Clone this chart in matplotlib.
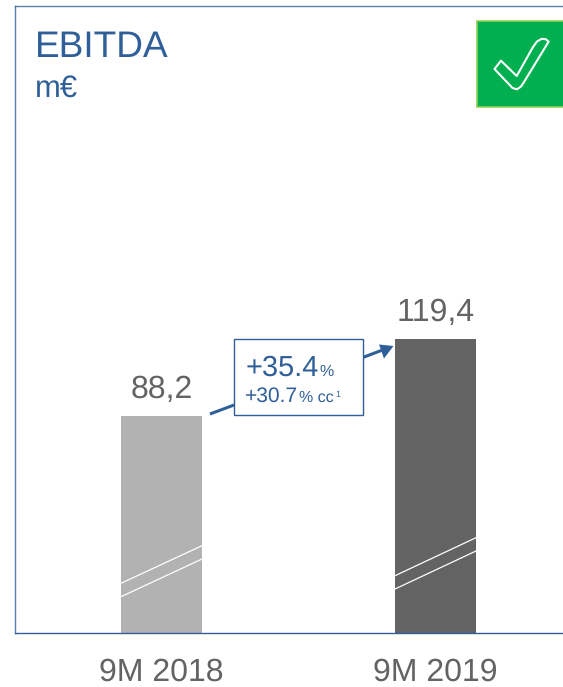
import matplotlib
matplotlib.use("Agg")
import matplotlib.pyplot as plt
from matplotlib.patches import Polygon, Rectangle

categories = ["9M 2018", "9M 2019"]
values = [88.2, 119.4]
value_labels = ["88,2", "119,4"]
bar_colors = ["#B2B2B2", "#636363"]

W, H = 563, 687
BLUE = "#2F5F98"
GREY = "#636363"
plt.rcParams["font.family"] = ["Liberation Sans", "DejaVu Sans"]
plt.rcParams["text.hinting"] = "no_hinting"
plt.rcParams["text.hinting_factor"] = 1

fig = plt.figure(figsize=(W / 100, H / 100), dpi=100, facecolor="white")

# data axes: left edge x=15px, right edge = figure edge, baseline y=633px, top y=6px
ax = fig.add_axes([15 / W, (H - 633) / H, (W - 15) / W, (633 - 6) / H])
px_per_unit = 2.461
ax.set_ylim(0, (633 - 6) / px_per_unit)
xs = [0, 1]
step = 274.0
ax.set_xlim(-(161.5 - 15) / step, (563 - 161.5) / step)
ax.bar(xs, values, width=81 / step, color=bar_colors, linewidth=0, zorder=2)
for x, v, lab in zip(xs, values, value_labels):
    ax.annotate(lab, (x, v), xytext=(0, 18), textcoords="offset pixels",
                ha="center", va="baseline", fontsize=23, color=GREY)
ax.set_xticks(xs, categories)
ax.set_yticks([])
ax.tick_params(axis="x", length=0, pad=17.3, labelsize=23, labelcolor=GREY)
for lab in ax.get_xticklabels():
    lab.set_verticalalignment("top")
for s in ["left", "top", "bottom"]:
    ax.spines[s].set_color(BLUE)
    ax.spines[s].set_linewidth(1.0)
ax.spines["right"].set_visible(False)
ax.spines["top"].set_alpha(0.8)
ax.spines["left"].set_alpha(0.8)

# overlay in reference pixel coordinates for the decorations
ov = fig.add_axes([0, 0, 1, 1], facecolor="none")
ov.set_xlim(0, W)
ov.set_ylim(H, 0)
ov.axis("off")

# axis-break strokes on the bars
for x0, x1, y0, y1 in [(121, 202, 583.3, 545.7), (121, 202, 596.7, 559.0),
                       (395, 476, 575.7, 537.7), (395, 476, 589.0, 551.0)]:
    ov.plot([x0, x1], [y0, y1], color="white", lw=0.9, zorder=3)

# titles
ov.text(35, 57, "EBITDA", fontsize=26.5, color=BLUE, va="baseline")
ov.text(35, 97, "m€", fontsize=22.3, color=BLUE, va="baseline")

# check icon
ov.add_patch(Rectangle((476.5, 21), 90, 86, facecolor="#00B050",
                       edgecolor="#92D050", lw=1.2, zorder=3))
check = [(494.5, 69), (501, 60.7), (516.7, 76), (533, 47), (537, 41.5), (541.7, 38.8),
         (546, 39.3), (548.6, 41.7), (524, 82), (521, 86.5), (517, 89.3), (512.5, 88)]
ov.add_patch(Polygon(check, closed=True, facecolor="none", edgecolor="white",
                     lw=1.5, joinstyle="round", zorder=4))

# growth callout
ov.plot([210, 234], [414, 405], color=BLUE, lw=2.2, solid_capstyle="butt", zorder=3)
ov.plot([363.3, 382], [357.3, 350.2], color=BLUE, lw=2.2, solid_capstyle="butt", zorder=3)
ov.add_patch(Polygon([(393.5, 346), (379, 344.5), (384, 358.5)], closed=True,
                     facecolor=BLUE, edgecolor="none", zorder=3))
ov.add_patch(Rectangle((234, 338.7), 129.3, 76, facecolor="white",
                       edgecolor=BLUE, lw=1.0, alpha=1, zorder=4))
ov.text(246, 375.5, "+35.4", fontsize=20.9, color=BLUE, va="baseline", zorder=5)
ov.text(319, 375.5, "%", fontsize=11.3, color=BLUE, va="baseline", zorder=5)
ov.text(245, 402, "+30.7", fontsize=15.4, color=BLUE, va="baseline", zorder=5)
ov.text(299, 402, "% cc", fontsize=11.3, color=BLUE, va="baseline", zorder=5)
ov.text(335, 397, "1", fontsize=6.5, color=BLUE, va="baseline", zorder=5)

fig.savefig("out.png", dpi=100)
